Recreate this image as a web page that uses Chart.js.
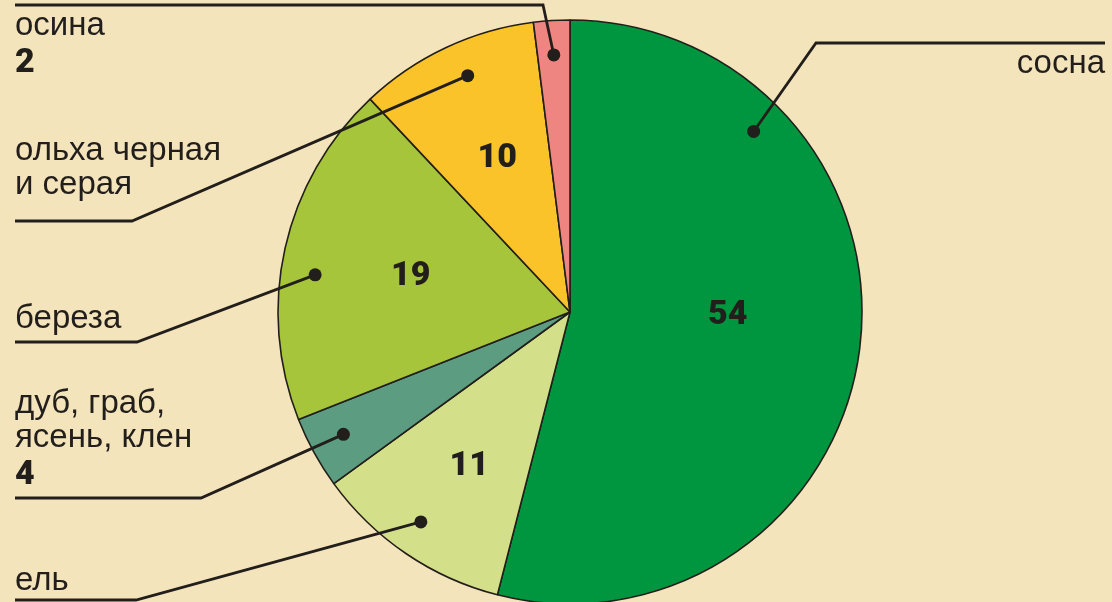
<!DOCTYPE html>
<html>
<head>
<meta charset="utf-8">
<script src="https://cdn.jsdelivr.net/npm/chart.js@4"></script>
<style>
  html, body { margin: 0; padding: 0; background: #f4e4bb; }
  #wrap { width: 1112px; height: 602px; position: relative; }
</style>
</head>
<body>
<div id="wrap"><canvas id="forest_chart" width="1112" height="602"></canvas></div>
<script>
const chart_element = document.getElementById("forest_chart");

// data, clockwise from the top
const categories = ["сосна", "ель", ["дуб, граб,", "ясень, клен"], "береза", ["ольха черная", "и серая"], "осина"];
const shares = [54, 11, 4, 19, 10, 2];
// which values are written inside the slice, the rest go under the name
const value_inside = [true, true, false, true, true, false];

const slice_colors = ["#00963f", "#d4df8a", "#5c9d82", "#a6c53a", "#fbc32a", "#ef8580"];
const ink = "#221e1b";

// leader line / label layout per slice (in order of categories)
// frac: where the dot sits inside the slice, elbow+end: the line, text: where the name is written
const leaders = [
    { frac: 0.234, elbow: [816, 43], end: [1105, 43], text: [1105, 73], align: "right" },
    { frac: 0.53, elbow: [136, 600], end: [15, 600], text: [15, 590], align: "left" },
    { frac: 0.53, elbow: [201, 498], end: [15, 498], text: [15, 413], align: "left" },
    { frac: 0.437, elbow: [137, 342], end: [15, 342], text: [15, 328], align: "left" },
    { frac: 0.55, elbow: [132, 221], end: [15, 221], text: [15, 160], align: "left" },
    { frac: 0.5, elbow: [543, 5], end: [15, 5], text: [15, 35], align: "left" }
];
// inner value labels: position in slice (angle fraction, radius fraction)
const inner_pos = [[0.467, 0.54], [0.475, 0.63], null, [0.506, 0.56], [0.5, 0.585], null];

const name_font = "33px 'Liberation Sans', Arial, sans-serif";
const value_font = "900 34px Roboto, 'Liberation Sans', Arial, sans-serif";
const line_gap = 34;

function point_in_arc(arc, frac, rfrac) {
    const a = arc.startAngle + (arc.endAngle - arc.startAngle) * frac;
    const r = arc.outerRadius * rfrac;
    return [arc.x + Math.cos(a) * r, arc.y + Math.sin(a) * r];
}

const label_plugin = {
    id: "leader_labels",
    afterDatasetsDraw(chart) {
        const ctx = chart.ctx;
        const arcs = chart.getDatasetMeta(0).data;
        ctx.save();
        arcs.forEach((arc, i) => {
            const lay = leaders[i];
            const dot = point_in_arc(arc, lay.frac, 0.882);

            // leader line
            ctx.strokeStyle = ink;
            ctx.lineWidth = 2.8;
            ctx.lineJoin = "miter";
            ctx.beginPath();
            ctx.moveTo(dot[0], dot[1]);
            ctx.lineTo(lay.elbow[0], lay.elbow[1]);
            ctx.lineTo(lay.end[0], lay.end[1]);
            ctx.stroke();

            ctx.fillStyle = ink;
            ctx.beginPath();
            ctx.arc(dot[0], dot[1], 6.5, 0, Math.PI * 2);
            ctx.fill();

            // name
            const lines = Array.isArray(categories[i]) ? categories[i] : [categories[i]];
            ctx.textAlign = lay.align;
            ctx.textBaseline = "alphabetic";
            ctx.font = name_font;
            lines.forEach((ln, k) => {
                ctx.fillText(ln, lay.text[0], lay.text[1] + k * line_gap);
            });
            if (!value_inside[i]) {
                ctx.font = value_font;
                ctx.fillText(String(shares[i]), lay.text[0], lay.text[1] + lines.length * line_gap + 3);
            }

            // value inside slice
            if (value_inside[i]) {
                const p = point_in_arc(arc, inner_pos[i][0], inner_pos[i][1]);
                ctx.font = value_font;
                ctx.textAlign = "center";
                ctx.textBaseline = "middle";
                ctx.fillText(String(shares[i]), p[0], p[1] + 1);
            }
        });
        ctx.restore();
    }
};

const chart = new Chart(chart_element, {
    type: "pie",
    data: {
        labels: categories,
        datasets: [{
            data: shares,
            backgroundColor: slice_colors,
            borderColor: ink,
            borderWidth: 1.6,
            clip: false
        }]
    },
    options: {
        responsive: false,
        animation: false,
        radius: 292,
        layout: { padding: { left: 28, right: 0, top: 22, bottom: 0 } },
        plugins: {
            legend: { display: false },
            tooltip: { enabled: false }
        }
    },
    plugins: [label_plugin]
});
</script>
</body>
</html>
